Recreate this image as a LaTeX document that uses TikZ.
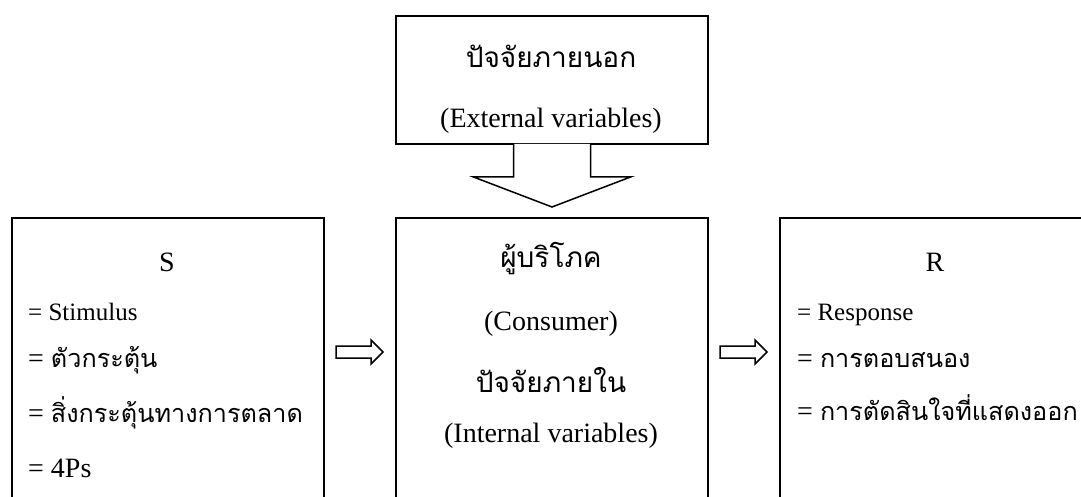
\documentclass[tikz,border=0pt]{standalone}
\usepackage{fontspec}
\setmainfont{Liberation Serif}
\newfontfamily\thaifont[Script=Thai]{Loma}
\newfontfamily\thaiitem[Script=Thai, Scale=0.9]{Loma}
\usetikzlibrary{calc}

\tikzset{
    frame/.style={draw, line width=2pt, minimum width=312pt, inner sep=0pt, anchor=north west},
    head/.style={font=\fontsize{28}{34}\selectfont, anchor=base, inner sep=0pt},
    item/.style={font=\fontsize{25}{30}\selectfont, anchor=base west, inner sep=0pt},
    itembig/.style={item, font=\fontsize{28}{34}\selectfont},
    blockarrow/.style={draw, line width=1.5pt, fill=white, line join=miter}
}

\begin{document}
\begin{tikzpicture}[x=1pt, y=-1pt]
    \useasboundingbox (0,0) rectangle (1081,497);
    \clip (0,0) rectangle (1081,497);
    % boxes
    \node[frame, minimum height=128pt] (outer) at (395,15) {};
    \node[frame, minimum height=300pt] (stim) at (11,217) {};
    \node[frame, minimum height=300pt] (cons) at (395,217) {};
    \node[frame, minimum height=300pt] (resp) at (779,217) {};
    % wide arrow out of the top box
    \draw[blockarrow] ($(outer.south)+(-38.5,-1.1)$) -- ++(0,33.1) -- ++(-40,0)
        -- ($(cons.north)+(0,-10)$) -- ($(outer.south)+(78.5,32)$) -- ++(-40,0) -- ++(0,-33.1);
    % small arrows between the boxes
    \foreach \a/\b in {stim/cons, cons/resp}{
        \draw[blockarrow] ($(\a.north east)+(11,129)$) -- ($(\b.north west)+(-24,129)$) -- ++(0,-6)
            -- ($(\b.north west)+(-12,135)$) -- ($(\b.north west)+(-24,147)$) -- ++(0,-6)
            -- ($(\a.north east)+(11,141)$) -- cycle;
    }
    % texts
    \node[head] (extth) at (551,68) {\thaifont ปัจจัยภายนอก};
    \node[head] (exten) at (551,128) {(External variables)};
    \node[head] (stitle) at (167,271) {S};
    \node[item] (s1) at (28,320) {= Stimulus};
    \node[itembig] (s2) at (28,367) {= \thaiitem ตัวกระตุ้น};
    \node[itembig] (s3) at (28,422) {= \thaiitem สิ่งกระตุ้นทางการตลาด};
    \node[itembig] (s4) at (28,477) {= 4Ps};
    \node[head] (conth) at (551,267) {\thaifont ผู้บริโภค};
    \node[head] (conen) at (551,330) {(Consumer)};
    \node[head] (intth) at (551,392) {\thaifont ปัจจัยภายใน};
    \node[head] (inten) at (551,442) {(Internal variables)};
    \node[head] (rtitle) at (935,271) {R};
    \node[item] (r1) at (797,320) {= Response};
    \node[itembig] (r2) at (797,367) {= \thaiitem การตอบสนอง};
    \node[itembig] (r3) at (797,420) {= \thaiitem การตัดสินใจที่แสดงออก};
\end{tikzpicture}
\end{document}
